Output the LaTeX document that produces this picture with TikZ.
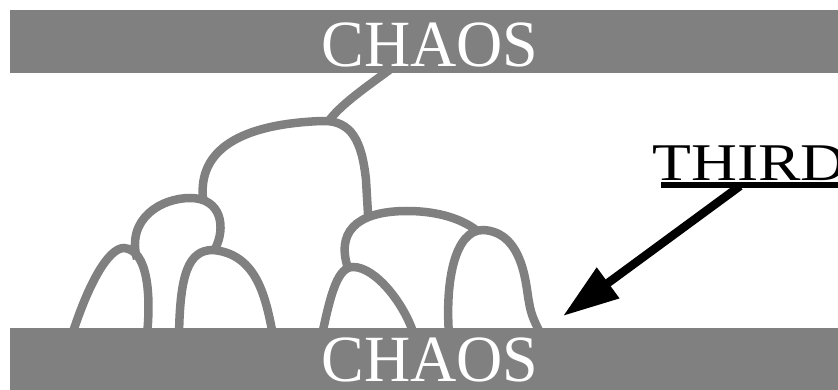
\documentclass[tikz,border=0pt]{standalone}
\usepackage{fontspec}
\setmainfont{Liberation Serif}
\usetikzlibrary{arrows.meta}
\definecolor{bargray}{RGB}{128,128,128}
\begin{document}
\begin{tikzpicture}[x=1pt,y=-1pt,
  branch/.style={draw=bargray,line width=8.5pt},
  bar/.style={fill=bargray},
  chaostext/.style={text=white,font=\fontsize{66}{66}\selectfont,inner sep=0pt,xscale=0.97},
  thirdtext/.style={text=black,font=\fontsize{53}{53}\selectfont,inner sep=0pt,xscale=1.2}]
\useasboundingbox (0,0) rectangle (838,390);
% tree of branches
\draw[branch] (392,68) .. controls (365,88) and (340,105) .. (328,122);
\draw[branch] (203,199) .. controls (198,150) and (240,124) .. (322,121)
   .. controls (352,120) and (362,142) .. (366,180) -- (368,214);
\draw[branch] (137,259) .. controls (126,218) and (162,198) .. (190,198)
   .. controls (222,198) and (226,228) .. (215,249);
\draw[branch] (72,335) .. controls (88,285) and (108,248) .. (124,248)
   .. controls (148,250) and (151,295) .. (147,335);
\draw[branch] (179,335) .. controls (180,275) and (188,250) .. (213,250)
   .. controls (258,254) and (266,300) .. (273,335);
\draw[branch] (347,265) .. controls (336,226) and (365,211) .. (407,211)
   .. controls (440,211) and (463,220) .. (476,230);
\draw[branch] (322,335) .. controls (331,292) and (338,267) .. (353,267)
   .. controls (376,267) and (405,305) .. (414,335);
\draw[branch] (449,335) .. controls (445,280) and (455,230) .. (483,230)
   .. controls (525,232) and (526,290) .. (529,302)
   .. controls (531,316) and (536,324) .. (541,335);
% bars
\fill[bar] (10,10) rectangle (838,73);
\fill[bar] (10,328) rectangle (838,390);
\node[chaostext] (chaosTop) at (430,45) {CHAOS};
\node[chaostext] (chaosBot) at (430,360) {CHAOS};
% third
\node[thirdtext,anchor=base west] (third) at (652,181) {THIRD};
\coordinate (ulL) at (661,185);
\coordinate (ulR) at (838,185);
\coordinate (arrStart) at (740,186);
\coordinate (arrTip) at (563,316);
\draw[line width=6pt] (ulL) -- (ulR);
\draw[line width=8.5pt,-{Triangle[length=56pt,width=36pt]}] (arrStart) -- (arrTip);
\end{tikzpicture}
\end{document}
